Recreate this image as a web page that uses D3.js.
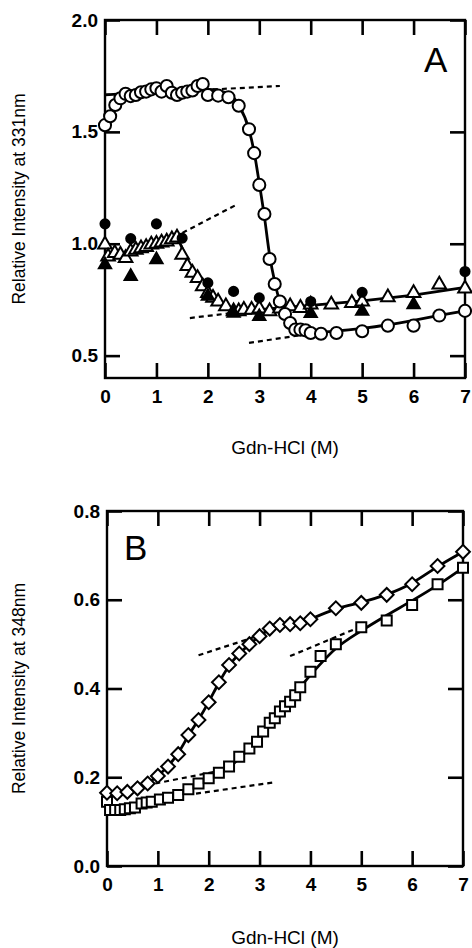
<!DOCTYPE html>
<html>
<head>
<meta charset="utf-8">
<script src="https://d3js.org/d3.v7.min.js"></script>
<style>
  body { margin: 0; background: #fff; }
  text { font-family: "Liberation Sans", Arial, sans-serif; fill: #000; }
</style>
</head>
<body>
<svg width="472" height="948"></svg>
<script>
// ---- panel A : relative intensity at 331nm ----
var aOpenCircles = [[0,1.53],[0.1,1.57],[0.2,1.62],[0.3,1.65],[0.4,1.67],[0.5,1.66],[0.6,1.665],[0.7,1.677],[0.8,1.68],[0.9,1.69],[1.0,1.695],[1.1,1.68],[1.2,1.705],[1.3,1.675],[1.4,1.665],[1.5,1.675],[1.6,1.68],[1.7,1.685],[1.8,1.705],[1.9,1.714],[2.0,1.665],[2.2,1.662],[2.4,1.655],[2.6,1.617],[2.8,1.512],[2.9,1.405],[3.0,1.263],[3.1,1.133],[3.2,0.932],[3.3,0.82],[3.4,0.742],[3.5,0.686],[3.6,0.646],[3.7,0.616],[3.8,0.616],[3.9,0.613],[4.0,0.601],[4.2,0.598],[4.5,0.601],[5.0,0.609],[5.5,0.634],[6.0,0.634],[6.5,0.679],[7.0,0.70]];
var aOpenTriangles = [[0,0.996],[0.06,0.943],[0.19,0.958],[0.3,0.95],[0.4,0.936],[0.5,0.965],[0.6,0.973],[0.7,0.98],[0.8,0.985],[0.9,0.996],[1.0,1.0],[1.1,1.005],[1.2,1.01],[1.3,1.02],[1.4,1.028],[1.5,0.95],[1.6,0.90],[1.7,0.87],[1.8,0.847],[1.9,0.81],[2.0,0.78],[2.1,0.758],[2.2,0.742],[2.35,0.72],[2.5,0.698],[2.6,0.698],[2.7,0.705],[2.85,0.705],[3.0,0.71],[3.2,0.698],[3.4,0.71],[3.6,0.72],[3.8,0.713],[4.0,0.728],[4.4,0.728],[4.8,0.735],[5.0,0.742],[5.5,0.76],[6.0,0.78],[6.5,0.817],[7.0,0.80]];
var aFilledCircles = [[0,1.089],[0.5,1.023],[1.0,1.089],[1.5,1.025],[2.0,0.825],[2.5,0.787],[3.0,0.758],[4.0,0.742],[5.0,0.783],[7.0,0.876]];
var aFilledTriangles = [[0,0.906],[0.5,0.854],[1.0,0.929],[2.0,0.765],[2.5,0.69],[3.0,0.675],[4.0,0.688],[5.0,0.698],[6.0,0.728]];
// fitted curves and baselines
var aCircleFit = [[0,1.665],[1,1.68],[2,1.69],[2.4,1.67],[2.6,1.62],[2.8,1.51],[2.9,1.41],[3.0,1.27],[3.1,1.12],[3.2,0.95],[3.3,0.83],[3.4,0.74],[3.5,0.685],[3.6,0.648],[3.7,0.625],[3.8,0.612],[4.0,0.603],[4.5,0.61],[5,0.622],[5.5,0.638],[6,0.658],[6.5,0.68],[7,0.70]];
var aTriangleFit = [[0,0.93],[0.5,0.965],[1.0,1.0],[1.4,1.035],[1.6,0.925],[2.0,0.79],[2.4,0.71],[2.7,0.70],[3.5,0.715],[4.0,0.725],[5.0,0.745],[6.0,0.77],[7.0,0.805]];
var aDashed = [
  [[0,1.665],[3.4,1.705]],
  [[2.8,0.557],[4.0,0.598]],
  [[1.35,1.03],[2.56,1.175]],
  [[1.65,0.668],[2.7,0.697]]
];
var aYTicks = [0.5, 1.0, 1.5, 2.0];

// ---- panel B : relative intensity at 348nm ----
var bDiamonds = [[0,0.165],[0.2,0.164],[0.4,0.167],[0.6,0.175],[0.8,0.186],[1.0,0.203],[1.2,0.224],[1.4,0.252],[1.6,0.295],[1.8,0.329],[2.0,0.369],[2.2,0.414],[2.4,0.453],[2.6,0.479],[2.8,0.50],[3.0,0.518],[3.2,0.535],[3.4,0.543],[3.6,0.545],[3.8,0.547],[4.0,0.556],[4.5,0.581],[5.0,0.593],[5.5,0.611],[6.0,0.635],[6.5,0.676],[7.0,0.708]];
var bSquares = [[0,0.145],[0.06,0.126],[0.16,0.126],[0.26,0.126],[0.35,0.128],[0.45,0.13],[0.55,0.132],[0.68,0.141],[0.78,0.143],[0.88,0.145],[1.04,0.15],[1.2,0.154],[1.4,0.16],[1.6,0.173],[1.8,0.186],[2.0,0.198],[2.2,0.21],[2.4,0.224],[2.6,0.246],[2.8,0.265],[2.95,0.28],[3.07,0.303],[3.2,0.323],[3.3,0.333],[3.4,0.348],[3.5,0.36],[3.6,0.37],[3.7,0.385],[3.8,0.403],[4.0,0.438],[4.2,0.473],[4.5,0.50],[5.0,0.538],[5.5,0.553],[6.0,0.588],[6.5,0.635],[7.0,0.672]];
var bSquareFit = [[0,0.13],[0.5,0.131],[1.0,0.145],[1.5,0.165],[2.0,0.195],[2.5,0.232],[3.0,0.29],[3.5,0.36],[4.0,0.43],[4.5,0.49],[5.0,0.53],[5.5,0.565],[6.0,0.598],[6.5,0.633],[7.0,0.672]];
var bDashed = [
  [[0.95,0.186],[2.15,0.213]],
  [[1.75,0.163],[3.25,0.188]],
  [[1.8,0.475],[3.2,0.527]],
  [[3.6,0.473],[5.0,0.54]]
];
var bYTicks = [0.0, 0.2, 0.4, 0.6, 0.8];

var xTicks = [0, 1, 2, 3, 4, 5, 6, 7];

var svg = d3.select('svg');

function panel(opt) {
  var x = d3.scaleLinear().domain([0, 7]).range([opt.left, opt.right]);
  var y = d3.scaleLinear().domain(opt.yDomain).range([opt.bottom, opt.top]);
  var g = svg.append('g');

  // inward ticks on all four sides
  g.append('g').attr('transform', 'translate(0,' + opt.bottom + ')')
    .call(d3.axisBottom(x).tickValues(xTicks).tickSize(-15).tickPadding(12).tickFormat(d3.format('d')));
  g.append('g').attr('transform', 'translate(0,' + opt.top + ')')
    .call(d3.axisTop(x).tickValues(xTicks).tickSize(-15).tickFormat(''));
  g.append('g').attr('transform', 'translate(' + opt.left + ',0)')
    .call(d3.axisLeft(y).tickValues(opt.yTicks).tickSize(-15).tickPadding(7).tickFormat(d3.format('.1f')));
  g.append('g').attr('transform', 'translate(' + opt.right + ',0)')
    .call(d3.axisRight(y).tickValues(opt.yTicks).tickSize(-15).tickFormat(''));

  g.selectAll('.domain').remove();
  g.selectAll('.tick line').attr('stroke', '#000').attr('stroke-width', 2.6);
  g.selectAll('.tick text').attr('font-size', 19).attr('font-weight', 'bold')
    .style('font-family', '"Liberation Sans", Arial, sans-serif');

  g.append('rect')
    .attr('x', opt.left).attr('y', opt.top)
    .attr('width', opt.right - opt.left).attr('height', opt.bottom - opt.top)
    .attr('fill', 'none').attr('stroke', '#000').attr('stroke-width', 2.4);

  var line = d3.line().x(function(d) { return x(d[0]); }).y(function(d) { return y(d[1]); });

  g.selectAll('.dash').data(opt.dashed).enter().append('path')
    .attr('d', line).attr('fill', 'none').attr('stroke', '#000')
    .attr('stroke-width', 2.2).attr('stroke-dasharray', '5,4');

  opt.fits.forEach(function(f) {
    g.append('path').datum(f.data)
      .attr('d', line.curve(f.curve || d3.curveMonotoneX))
      .attr('fill', 'none').attr('stroke', '#000').attr('stroke-width', 2.8);
  });

  opt.series.forEach(function(s) {
    g.append('g').selectAll('path').data(s.data).enter().append('path')
      .attr('d', d3.symbol().type(s.type).size(s.size))
      .attr('transform', function(d) {
        return 'translate(' + x(d[0]) + ',' + y(d[1]) + ')' + (s.rotate ? ' rotate(' + s.rotate + ')' : '');
      })
      .attr('fill', s.filled ? '#000' : '#fff')
      .attr('stroke', '#000').attr('stroke-width', 2);
  });

  g.append('text').attr('x', opt.letterX).attr('y', opt.letterY)
    .attr('font-size', 35).text(opt.letter);

  g.append('text')
    .attr('transform', 'translate(25,' + ((opt.top + opt.bottom) / 2) + ') rotate(-90)')
    .attr('text-anchor', 'middle').attr('font-size', 17.5)
    .text(opt.yTitle);

  g.append('text').attr('x', (opt.left + opt.right) / 2).attr('y', opt.xTitleY)
    .attr('text-anchor', 'middle').attr('font-size', 19)
    .text('Gdn-HCl (M)');
}

panel({
  left: 105, right: 465, top: 20, bottom: 378,
  yDomain: [0.4, 2.0], yTicks: aYTicks,
  dashed: aDashed,
  fits: [{data: aCircleFit}, {data: aTriangleFit, curve: d3.curveLinear}],
  series: [
    {data: aOpenTriangles, type: d3.symbolTriangle, size: 80},
    {data: aFilledTriangles, type: d3.symbolTriangle, size: 65, filled: true},
    {data: aFilledCircles, type: d3.symbolCircle, size: 65, filled: true},
    {data: aOpenCircles, type: d3.symbolCircle, size: 115}
  ],
  letter: 'A', letterX: 424, letterY: 72,
  yTitle: 'Relative Intensity at 331nm',
  xTitleY: 454
});

panel({
  left: 107, right: 463, top: 511, bottom: 866,
  yDomain: [0, 0.8], yTicks: bYTicks,
  dashed: bDashed,
  fits: [{data: bDiamonds, curve: d3.curveBasis}, {data: bSquareFit}],
  series: [
    {data: bSquares, type: d3.symbolSquare, size: 100},
    {data: bDiamonds, type: d3.symbolSquare, size: 95, rotate: 45}
  ],
  letter: 'B', letterX: 124, letterY: 560,
  yTitle: 'Relative Intensity at 348nm',
  xTitleY: 944
});
</script>
</body>
</html>
